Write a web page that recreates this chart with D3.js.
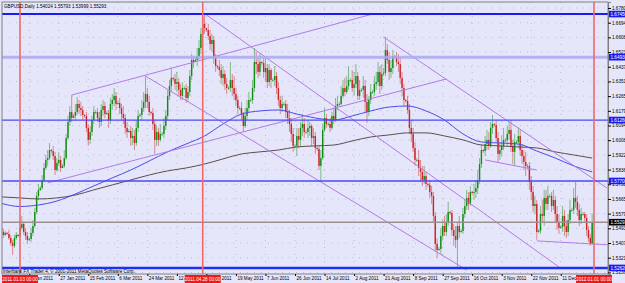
<!DOCTYPE html>
<html>
<head>
<meta charset="utf-8">
<script src="https://cdn.jsdelivr.net/npm/d3@7"></script>
<style>
  body { margin: 0; background: #e6e6fa; }
  svg { display: block; font-family: "Liberation Sans", Arial, sans-serif; }
</style>
</head>
<body>
<div id="chart"></div>
<script>
const width = 625, height = 283;
const plot = { left: 2, top: 2, right: 608, bottom: 274 };

// daily bars from 22 Dec 2010, broker has Sunday sessions (no Saturdays)
const firstDay = "2010-12-22";
const firstOpen = 1.5496;
const closes = [
  1.5472, 1.5455, 1.5467, 1.5461, 1.5437, 1.5408, 1.5391, 1.5437, 1.5455, 1.5449,
  1.5496, 1.5519, 1.5472, 1.5449, 1.5426, 1.5431, 1.5467, 1.5507, 1.5589, 1.5683,
  1.5718, 1.5729, 1.5776, 1.5846, 1.5893, 1.5904, 1.5951, 1.5945, 1.5916, 1.5834,
  1.5875, 1.5893, 1.5846, 1.5858, 1.5904, 1.6021, 1.6115, 1.6173, 1.6138, 1.6150,
  1.6173, 1.6220, 1.6196, 1.6185, 1.6156, 1.6150, 1.6080, 1.6010, 1.6056, 1.6126,
  1.6173, 1.6173, 1.6138, 1.6115, 1.6185, 1.6208, 1.6161, 1.6167, 1.6126, 1.6220,
  1.6243, 1.6267, 1.6220, 1.6226, 1.6196, 1.6161, 1.6138, 1.6080, 1.6056, 1.6062,
  1.6021, 1.6033, 1.5992, 1.6080, 1.6150, 1.6156, 1.6196, 1.6232, 1.6278, 1.6232,
  1.6173, 1.6167, 1.6103, 1.6010, 1.6056, 1.6010, 1.6045, 1.6045, 1.6091, 1.6150,
  1.6267, 1.6325, 1.6372, 1.6366, 1.6337, 1.6348, 1.6302, 1.6267, 1.6313, 1.6313,
  1.6255, 1.6290, 1.6383, 1.6477, 1.6465, 1.6477, 1.6500, 1.6547, 1.6629, 1.6687,
  1.6664, 1.6652, 1.6617, 1.6570, 1.6594, 1.6488, 1.6442, 1.6436, 1.6418, 1.6372,
  1.6395, 1.6337, 1.6313, 1.6313, 1.6360, 1.6313, 1.6278, 1.6243, 1.6196, 1.6196,
  1.6161, 1.6091, 1.6150, 1.6196, 1.6243, 1.6243, 1.6313, 1.6465, 1.6453, 1.6407,
  1.6465, 1.6459, 1.6407, 1.6430, 1.6348, 1.6418, 1.6360, 1.6360, 1.6383, 1.6313,
  1.6243, 1.6196, 1.6220, 1.6220, 1.6173, 1.6138, 1.6103, 1.6045, 1.5975, 1.5975,
  1.6033, 1.6010, 1.6080, 1.6103, 1.6056, 1.6056, 1.6080, 1.6091, 1.6021, 1.6033,
  1.5963, 1.5957, 1.5858, 1.5904, 1.6068, 1.6138, 1.6103, 1.6103, 1.6080, 1.6150,
  1.6126, 1.6208, 1.6220, 1.6220, 1.6267, 1.6313, 1.6290, 1.6325, 1.6360, 1.6360,
  1.6313, 1.6337, 1.6383, 1.6267, 1.6302, 1.6302, 1.6325, 1.6232, 1.6173, 1.6243,
  1.6290, 1.6290, 1.6337, 1.6348, 1.6407, 1.6325, 1.6395, 1.6401, 1.6535, 1.6477,
  1.6407, 1.6430, 1.6500, 1.6494, 1.6465, 1.6453, 1.6372, 1.6313, 1.6243, 1.6237,
  1.6185, 1.6080, 1.6045, 1.5963, 1.5893, 1.5893, 1.5846, 1.5823, 1.5776, 1.5799,
  1.5753, 1.5747, 1.5706, 1.5683, 1.5566, 1.5402, 1.5367, 1.5373, 1.5449, 1.5507,
  1.5472, 1.5531, 1.5589, 1.5583, 1.5484, 1.5449, 1.5426, 1.5507, 1.5472, 1.5478,
  1.5577, 1.5624, 1.5671, 1.5636, 1.5706, 1.5700, 1.5706, 1.5729, 1.5776, 1.5869,
  1.5951, 1.5945, 1.5986, 1.6010, 1.5975, 1.6080, 1.6103, 1.6097, 1.6021, 1.5928,
  1.5951, 1.5975, 1.6010, 1.6010, 1.6045, 1.6068, 1.5975, 1.5940, 1.5998, 1.5998,
  1.6033, 1.5951, 1.5916, 1.5881, 1.5858, 1.5858, 1.5764, 1.5706, 1.5624, 1.5636,
  1.5472, 1.5478, 1.5577, 1.5566, 1.5671, 1.5636, 1.5683, 1.5683, 1.5624, 1.5659,
  1.5577, 1.5531, 1.5496, 1.5502, 1.5566, 1.5507, 1.5472, 1.5542, 1.5601, 1.5601,
  1.5671, 1.5648, 1.5601, 1.5542, 1.5577, 1.5577, 1.5554, 1.5484, 1.5437, 1.54024, 1.55293
];
const highs = [
  1.5507, 1.5490, 1.5478, 1.5472, 1.5484, 1.5455, 1.5426, 1.5455, 1.5472, 1.5461,
  1.5513, 1.5566, 1.5531, 1.5496, 1.5472, 1.5443, 1.5496, 1.5542, 1.5613, 1.5706,
  1.5753, 1.5741, 1.5805, 1.5875, 1.5922, 1.5951, 1.5992, 1.5957, 1.5975, 1.5940,
  1.5904, 1.5940, 1.5916, 1.5869, 1.5951, 1.6045, 1.6150, 1.6208, 1.6272, 1.6161,
  1.6220, 1.6261, 1.6243, 1.6232, 1.6208, 1.6161, 1.6173, 1.6103, 1.6091, 1.6150,
  1.6208, 1.6185, 1.6196, 1.6173, 1.6220, 1.6243, 1.6232, 1.6179, 1.6185, 1.6255,
  1.6278, 1.6313, 1.6290, 1.6237, 1.6255, 1.6220, 1.6208, 1.6161, 1.6115, 1.6074,
  1.6091, 1.6080, 1.6068, 1.6126, 1.6185, 1.6167, 1.6243, 1.6290, 1.6383, 1.6313,
  1.6267, 1.6179, 1.6196, 1.6126, 1.6091, 1.6080, 1.6103, 1.6056, 1.6138, 1.6185,
  1.6302, 1.6360, 1.6430, 1.6378, 1.6395, 1.6407, 1.6372, 1.6337, 1.6348, 1.6325,
  1.6337, 1.6325, 1.6418, 1.6512, 1.6500, 1.6488, 1.6547, 1.6594, 1.6664, 1.6728,
  1.6745, 1.6664, 1.6687, 1.6652, 1.6629, 1.6617, 1.6512, 1.6448, 1.6477, 1.6453,
  1.6442, 1.6418, 1.6372, 1.6325, 1.6465, 1.6395, 1.6383, 1.6313, 1.6267, 1.6208,
  1.6232, 1.6173, 1.6196, 1.6243, 1.6290, 1.6255, 1.6360, 1.6547, 1.6524, 1.6488,
  1.6512, 1.6471, 1.6488, 1.6488, 1.6453, 1.6453, 1.6430, 1.6372, 1.6442, 1.6407,
  1.6348, 1.6267, 1.6267, 1.6232, 1.6243, 1.6220, 1.6185, 1.6138, 1.6080, 1.5986,
  1.6080, 1.6080, 1.6115, 1.6161, 1.6138, 1.6068, 1.6126, 1.6115, 1.6103, 1.6080,
  1.6056, 1.5969, 1.5975, 1.5951, 1.6103, 1.6196, 1.6161, 1.6115, 1.6138, 1.6173,
  1.6196, 1.6255, 1.6267, 1.6232, 1.6325, 1.6360, 1.6372, 1.6383, 1.6442, 1.6372,
  1.6418, 1.6407, 1.6453, 1.6407, 1.6360, 1.6313, 1.6383, 1.6360, 1.6278, 1.6267,
  1.6337, 1.6302, 1.6383, 1.6407, 1.6465, 1.6442, 1.6453, 1.6430, 1.6611, 1.6570,
  1.6524, 1.6477, 1.6535, 1.6506, 1.6524, 1.6512, 1.6488, 1.6407, 1.6337, 1.6249,
  1.6267, 1.6220, 1.6126, 1.6080, 1.5998, 1.5904, 1.5951, 1.5893, 1.5858, 1.5858,
  1.5823, 1.5759, 1.5776, 1.5741, 1.5706, 1.5589, 1.5437, 1.5385, 1.5496, 1.5542,
  1.5566, 1.5577, 1.5648, 1.5595, 1.5601, 1.5519, 1.5507, 1.5531, 1.5566, 1.5490,
  1.5613, 1.5659, 1.5718, 1.5706, 1.5741, 1.5712, 1.5753, 1.5776, 1.5834, 1.5904,
  1.5986, 1.5957, 1.6033, 1.6068, 1.6056, 1.6115, 1.6156, 1.6109, 1.6126, 1.6056,
  1.5998, 1.6033, 1.6080, 1.6021, 1.6091, 1.6115, 1.6126, 1.6010, 1.6045, 1.6010,
  1.6080, 1.6068, 1.5986, 1.5951, 1.5940, 1.5869, 1.5881, 1.5799, 1.5741, 1.5683,
  1.5659, 1.5490, 1.5624, 1.5659, 1.5718, 1.5718, 1.5741, 1.5694, 1.5706, 1.5718,
  1.5683, 1.5624, 1.5577, 1.5513, 1.5624, 1.5601, 1.5542, 1.5577, 1.5659, 1.5613,
  1.5729, 1.5764, 1.5683, 1.5636, 1.5613, 1.5589, 1.5589, 1.5577, 1.5507, 1.5461, 1.55793
];
const lows = [
  1.5449, 1.5437, 1.5449, 1.5455, 1.5426, 1.5391, 1.5338, 1.5379, 1.5426, 1.5443,
  1.5437, 1.5484, 1.5455, 1.5426, 1.5402, 1.5420, 1.5414, 1.5449, 1.5496, 1.5577,
  1.5659, 1.5712, 1.5718, 1.5764, 1.5834, 1.5858, 1.5893, 1.5934, 1.5893, 1.5805,
  1.5823, 1.5858, 1.5823, 1.5846, 1.5846, 1.5893, 1.6010, 1.6091, 1.6115, 1.6138,
  1.6126, 1.6156, 1.6161, 1.6150, 1.6126, 1.6138, 1.6056, 1.5975, 1.5986, 1.6033,
  1.6103, 1.6161, 1.6115, 1.6080, 1.6091, 1.6150, 1.6138, 1.6156, 1.6080, 1.6103,
  1.6185, 1.6208, 1.6185, 1.6214, 1.6161, 1.6126, 1.6103, 1.6045, 1.6021, 1.6051,
  1.5975, 1.5980, 1.5951, 1.5975, 1.6056, 1.6144, 1.6126, 1.6173, 1.6196, 1.6196,
  1.6150, 1.6156, 1.6068, 1.5928, 1.5975, 1.5975, 1.5998, 1.6033, 1.6021, 1.6068,
  1.6126, 1.6243, 1.6290, 1.6354, 1.6302, 1.6290, 1.6267, 1.6243, 1.6243, 1.6302,
  1.6226, 1.6232, 1.6267, 1.6360, 1.6430, 1.6465, 1.6442, 1.6477, 1.6512, 1.6605,
  1.6629, 1.6640, 1.6594, 1.6535, 1.6524, 1.6453, 1.6407, 1.6424, 1.6383, 1.6337,
  1.6325, 1.6302, 1.6278, 1.6302, 1.6290, 1.6267, 1.6243, 1.6208, 1.6161, 1.6185,
  1.6126, 1.6056, 1.6080, 1.6126, 1.6173, 1.6232, 1.6220, 1.6290, 1.6395, 1.6372,
  1.6383, 1.6448, 1.6372, 1.6348, 1.6313, 1.6325, 1.6313, 1.6348, 1.6325, 1.6278,
  1.6208, 1.6161, 1.6173, 1.6208, 1.6138, 1.6103, 1.6056, 1.5998, 1.5940, 1.5963,
  1.5916, 1.5963, 1.5975, 1.6033, 1.6021, 1.6045, 1.6021, 1.6033, 1.5975, 1.5986,
  1.5928, 1.5945, 1.5834, 1.5770, 1.5893, 1.6056, 1.6080, 1.6091, 1.6056, 1.6068,
  1.6103, 1.6115, 1.6185, 1.6208, 1.6208, 1.6255, 1.6267, 1.6278, 1.6302, 1.6348,
  1.6290, 1.6267, 1.6313, 1.6243, 1.6243, 1.6290, 1.6255, 1.6173, 1.6109, 1.6150,
  1.6220, 1.6278, 1.6267, 1.6302, 1.6325, 1.6278, 1.6302, 1.6383, 1.6383, 1.6453,
  1.6360, 1.6372, 1.6395, 1.6483, 1.6442, 1.6407, 1.6337, 1.6267, 1.6208, 1.6226,
  1.6161, 1.6045, 1.5998, 1.5940, 1.5858, 1.5881, 1.5799, 1.5764, 1.5741, 1.5753,
  1.5718, 1.5735, 1.5671, 1.5636, 1.5531, 1.5356, 1.5320, 1.5361, 1.5344, 1.5426,
  1.5449, 1.5449, 1.5507, 1.5572, 1.5449, 1.5391, 1.5379, 1.5268, 1.5437, 1.5467,
  1.5461, 1.5554, 1.5601, 1.5601, 1.5624, 1.5688, 1.5659, 1.5671, 1.5694, 1.5753,
  1.5846, 1.5934, 1.5916, 1.5951, 1.5951, 1.5963, 1.6045, 1.6086, 1.5998, 1.5881,
  1.5893, 1.5916, 1.5951, 1.5998, 1.5975, 1.6010, 1.5940, 1.5869, 1.5858, 1.5986,
  1.5963, 1.5916, 1.5869, 1.5834, 1.5799, 1.5846, 1.5718, 1.5659, 1.5589, 1.5577,
  1.5426, 1.5467, 1.5461, 1.5531, 1.5507, 1.5601, 1.5601, 1.5671, 1.5589, 1.5601,
  1.5531, 1.5484, 1.5461, 1.5490, 1.5472, 1.5449, 1.5437, 1.5449, 1.5519, 1.5589,
  1.5577, 1.5613, 1.5566, 1.5507, 1.5519, 1.5566, 1.5531, 1.5449, 1.5414, 1.5391, 1.53999
];

// moving averages read every 10 bars (bar 0, 10, 20 ... 320)
const maStep = 10;
const maFast = [
  1.5639, 1.5621, 1.5630, 1.5653, 1.5694, 1.5741, 1.5788, 1.5834, 1.5887, 1.5940,
  1.5986, 1.6033, 1.6103, 1.6161, 1.6179, 1.6185, 1.6161, 1.6138, 1.6126, 1.6150,
  1.6179, 1.6202, 1.6208, 1.6179, 1.6126, 1.6045, 1.5998, 1.5992, 1.5986, 1.5945,
  1.5904, 1.5858, 1.5823
];
const maSlow = [
  1.5677, 1.5671, 1.5665, 1.5671, 1.5688, 1.5718, 1.5747, 1.5776, 1.5805, 1.5829,
  1.5846, 1.5869, 1.5899, 1.5928, 1.5940, 1.5951, 1.5969, 1.5975, 1.5980, 1.6004,
  1.6027, 1.6039, 1.6051, 1.6051, 1.6033, 1.6010, 1.5980, 1.5975, 1.5969, 1.5963,
  1.5940, 1.5922, 1.5904
];

const priceTicks = [
  "1.67805", "1.66947", "1.66089", "1.65231", "1.64373", "1.63515", "1.62657",
  "1.61799", "1.60941", "1.60083", "1.59225", "1.58367", "1.57509", "1.56651",
  "1.55793", "1.54935", "1.54077", "1.53219", "1.52361"
];
const dateTicks = [
  "9 Jan 2011", "27 Jan 2011", "15 Feb 2011", "6 Mar 2011", "24 Mar 2011",
  "12 Apr 2011", "1 May 2011", "19 May 2011", "7 Jun 2011", "26 Jun 2011",
  "14 Jul 2011", "2 Aug 2011", "21 Aug 2011", "8 Sep 2011", "27 Sep 2011",
  "16 Oct 2011", "3 Nov 2011", "22 Nov 2011", "11 Dec 2011"
];

// chart objects
const hLevels = [1.67450, 1.64930, 1.61260, 1.57700, 1.52620];
const vDates = ["2011-01-03", "2011-04-28", "2012-01-01"];
// trend lines: [bar, price, bar, price]
const trendLines = [
  [38, 1.6272, 201, 1.6745],
  [25, 1.5759, 241, 1.6366],
  [207, 1.6611, 328, 1.5729],
  [111, 1.6740, 302, 1.5268],
  [78, 1.6383, 252, 1.5250],
  [262, 1.5893, 290, 1.5834],
  [290, 1.5420, 331, 1.5396]
];

const hStyle = [
  { color: "#1c1cf5", w: 2 },
  { color: "#a9a9f0", w: 3 },
  { color: "#4848f8", w: 1.3 },
  { color: "#4848f8", w: 1.3 },
  { color: "#1c30f8", w: 2.4 }
];
const fs = "4.6px";

// trading calendar (Saturdays skipped)
const days = [];
for (let d = new Date(firstDay + "T00:00:00Z"); days.length < 345; d.setUTCDate(d.getUTCDate() + 1)) {
  if (d.getUTCDay() !== 6) days.push(new Date(d));
}
const keyFmt = d3.utcFormat("%Y-%m-%d");
const tickFmt = d3.utcFormat("%-d %b %Y");
const boxFmt = d3.utcFormat("%Y.%m.%d %H:%M");
const dayIndex = s => days.findIndex(d => keyFmt(d) === s);
const labelIndex = s => days.findIndex(d => tickFmt(d) === s);

const x = d3.scaleLinear()
  .domain([dayIndex(vDates[0]), dayIndex(vDates[2])])
  .range([20, 594]);

const y = d3.scaleLinear()
  .domain([1.52267, 1.68155])
  .range([plot.bottom, plot.top]);

const svg = d3.select("#chart").append("svg")
  .attr("width", width)
  .attr("height", height);

svg.append("rect").attr("width", width).attr("height", height).attr("fill", "#e6e6fa");

svg.append("clipPath").attr("id", "clip")
  .append("rect")
  .attr("x", plot.left).attr("y", plot.top)
  .attr("width", plot.right - plot.left).attr("height", plot.bottom - plot.top);

// GRID
const grid = svg.append("g").attr("stroke", "#b4b4c8").attr("stroke-dasharray", "1,6").attr("opacity", 0.8);
grid.selectAll(".gy").data(priceTicks).join("line")
  .attr("x1", plot.left).attr("x2", plot.right)
  .attr("y1", d => y(+d)).attr("y2", d => y(+d));
grid.selectAll(".gx").data(dateTicks).join("line")
  .attr("x1", d => x(labelIndex(d))).attr("x2", d => x(labelIndex(d)))
  .attr("y1", plot.top).attr("y2", plot.bottom);

const chart = svg.append("g").attr("clip-path", "url(#clip)");

// CANDLES
const bars = closes.map((c, i) => ({
  i, c, h: highs[i], l: lows[i], o: i ? closes[i - 1] : firstOpen
}));
const upCol = "#128c12", downCol = "#cc2424";

chart.append("g").selectAll("line").data(bars).join("line")
  .attr("x1", d => x(d.i)).attr("x2", d => x(d.i))
  .attr("y1", d => y(d.h)).attr("y2", d => y(d.l))
  .attr("stroke", d => d.c >= d.o ? upCol : downCol)
  .attr("stroke-opacity", 0.55)
  .attr("stroke-width", 0.9);

chart.append("g").selectAll("rect").data(bars).join("rect")
  .attr("x", d => x(d.i) - 0.7)
  .attr("width", 1.4)
  .attr("y", d => y(Math.max(d.o, d.c)))
  .attr("height", d => Math.max(0.7, Math.abs(y(d.o) - y(d.c))))
  .attr("fill", d => d.c >= d.o ? upCol : downCol);

// MOVING AVERAGES
const maLine = d3.line()
  .x((d, k) => x(k * maStep))
  .y(d => y(d))
  .curve(d3.curveMonotoneX);

chart.append("path").datum(maSlow)
  .attr("fill", "none").attr("stroke", "#5e4c4c").attr("stroke-width", 1).attr("d", maLine);
chart.append("path").datum(maFast)
  .attr("fill", "none").attr("stroke", "#4a4af0").attr("stroke-width", 1).attr("d", maLine);

// OBJECTS
chart.selectAll(".tl").data(trendLines).join("line")
  .attr("x1", d => x(d[0])).attr("y1", d => y(d[1]))
  .attr("x2", d => x(d[2])).attr("y2", d => y(d[3]))
  .attr("stroke", "#b27ae8").attr("stroke-width", 1);

chart.selectAll(".hl").data(hLevels).join("line")
  .attr("x1", plot.left).attr("x2", plot.right)
  .attr("y1", d => y(d)).attr("y2", d => y(d))
  .attr("stroke", (d, k) => hStyle[k].color)
  .attr("stroke-width", (d, k) => hStyle[k].w)
  .attr("stroke-opacity", (d, k) => k === 1 ? 0.85 : 1);

const bid = closes[closes.length - 1];
chart.append("line")
  .attr("x1", plot.left).attr("x2", plot.right)
  .attr("y1", y(bid)).attr("y2", y(bid))
  .attr("stroke", "#9a8f8f").attr("stroke-width", 1.6);

chart.selectAll(".vl").data(vDates).join("line")
  .attr("x1", d => x(dayIndex(d))).attr("x2", d => x(dayIndex(d)))
  .attr("y1", plot.top).attr("y2", plot.bottom)
  .attr("stroke", "#f06868").attr("stroke-width", 1.6);

// FRAME
svg.append("rect")
  .attr("x", plot.left).attr("y", plot.top)
  .attr("width", plot.right - plot.left).attr("height", plot.bottom - plot.top)
  .attr("fill", "none").attr("stroke", "#808080").attr("stroke-width", 1);

// AXES
const yAxis = svg.append("g")
  .attr("transform", `translate(${plot.right},0)`)
  .call(d3.axisRight(y)
    .tickValues(priceTicks.map(Number))
    .tickFormat((d, k) => priceTicks[k])
    .tickSize(3).tickPadding(1));
yAxis.select(".domain").attr("stroke", "#808080");
yAxis.selectAll("text").attr("font-size", fs).attr("fill", "#000").attr("font-family", "Liberation Sans, Arial");

const xAxis = svg.append("g")
  .attr("transform", `translate(0,${plot.bottom})`)
  .call(d3.axisBottom(x)
    .tickValues(dateTicks.map(labelIndex))
    .tickFormat((d, k) => dateTicks[k])
    .tickSize(2).tickPadding(1));
xAxis.select(".domain").remove();
xAxis.selectAll("text")
  .attr("font-size", fs).attr("fill", "#000").attr("font-family", "Liberation Sans, Arial")
  .attr("text-anchor", "start").attr("dx", 1).attr("dy", "0.55em");

// LEVEL LABELS
const tag = svg.append("g").attr("font-size", fs);
hLevels.forEach(p => {
  tag.append("rect").attr("x", plot.right + 1).attr("y", y(p) - 3.3)
    .attr("width", 17).attr("height", 6.6).attr("fill", "#1a1af0");
  tag.append("text").attr("x", plot.right + 2.5).attr("y", y(p) + 1.7)
    .attr("fill", "#fff").text(p.toFixed(5));
});
tag.append("rect").attr("x", plot.right + 1).attr("y", y(bid) - 3.3)
  .attr("width", 17).attr("height", 6.6).attr("fill", "#000");
tag.append("text").attr("x", plot.right + 2.5).attr("y", y(bid) + 1.7)
  .attr("fill", "#fff").text(bid.toFixed(5));

vDates.forEach(s => {
  const cx = x(dayIndex(s));
  tag.append("rect").attr("x", cx - 18).attr("y", plot.bottom + 1)
    .attr("width", 36).attr("height", 8).attr("fill", "#f01818");
  tag.append("text").attr("x", cx).attr("y", plot.bottom + 6.8)
    .attr("text-anchor", "middle").attr("fill", "#fff")
    .text(boxFmt(days[dayIndex(s)]));
});

// TEXTS
const n = closes.length;
svg.append("text").attr("x", 4).attr("y", 8).attr("font-size", fs).attr("fill", "#000")
  .text(`GBPUSD,Daily  ${closes[n - 2].toFixed(5)} ${highs[n - 1].toFixed(5)} ${lows[n - 1].toFixed(5)} ${closes[n - 1].toFixed(5)}`);

svg.append("text").attr("x", 3).attr("y", 272.6).attr("font-size", fs).attr("fill", "#000")
  .text("Interbank FX Trader 4, © 2001-2011 MetaQuotes Software Corp.");
</script>
</body>
</html>
